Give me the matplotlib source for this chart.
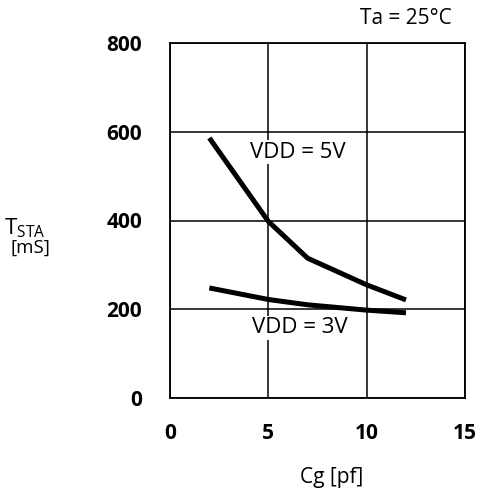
import matplotlib.pyplot as plt

# Cg [pF] vs. oscillation start time T_STA [ms]
cg_5v = [2, 5, 7, 10, 12]
tsta_5v = [586, 398, 315, 255, 221]

cg_3v = [2, 5, 7, 10, 12]
tsta_3v = [248, 222, 210, 198, 192]

x_ticks = [0, 5, 10, 15]
y_ticks = [0, 200, 400, 600, 800]

plt.rcParams['font.family'] = ['Open Sans', 'DejaVu Sans']

fig = plt.figure(figsize=(4.82, 4.91), dpi=100)
ax = fig.add_axes([170 / 482, 1 - 398 / 491, 295 / 482, 355 / 491])

ax.plot(cg_5v, tsta_5v, color='black', lw=3.6, solid_capstyle='butt', zorder=3)
ax.plot(cg_3v, tsta_3v, color='black', lw=3.6, solid_capstyle='butt', zorder=3)

ax.set_xlim(0, 15)
ax.set_ylim(0, 800)
ax.set_xticks(x_ticks)
ax.set_yticks(y_ticks)
ax.tick_params(length=0, labelsize=15)
for lbl in ax.get_xticklabels() + ax.get_yticklabels():
    lbl.set_fontweight('bold')
ax.tick_params(axis='x', pad=18)
ax.tick_params(axis='y', pad=20)

ax.grid(True, color='black', lw=1.1)
for s in ax.spines.values():
    s.set_linewidth(1.3)

ax.text(6.5, 554, 'VDD = 5V', fontsize=16, fontweight='medium', ha='center', va='center',
        bbox=dict(facecolor='white', edgecolor='none', pad=1), zorder=2)
ax.text(6.6, 158, 'VDD = 3V', fontsize=16, fontweight='medium', ha='center', va='center',
        bbox=dict(facecolor='white', edgecolor='none', pad=1), zorder=2)

fig.text(406 / 482, 1 - 18 / 491, 'Ta = 25°C', fontsize=15, fontweight='medium',
         ha='center', va='center')
fig.text(332 / 482, 1 - 478 / 491, 'Cg [pf]', fontsize=15, fontweight='medium',
         ha='center', va='center')
fig.text(4 / 482, 1 - 228 / 491, r'T$_{\mathregular{STA}}$', fontsize=16, ha='left', va='center')
fig.text(11 / 482, 1 - 248 / 491, '[mS]', fontsize=13.5, ha='left', va='center')

fig.savefig('out.png', dpi=100)
